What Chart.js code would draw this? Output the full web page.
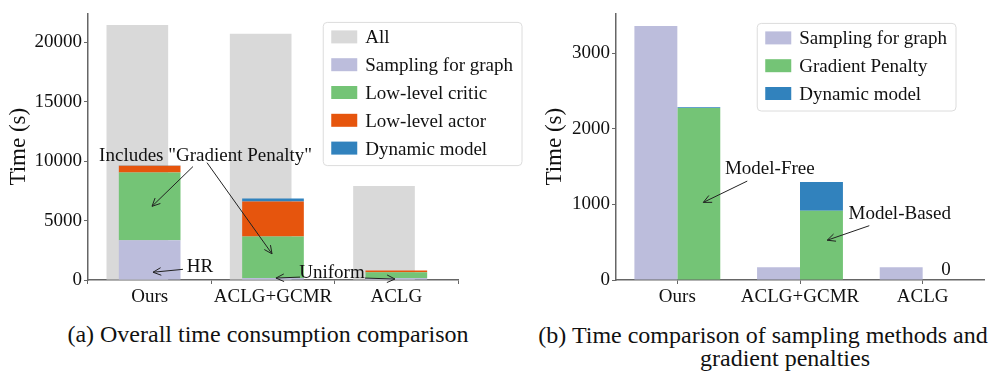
<!DOCTYPE html>
<html>
<head>
<meta charset="utf-8">
<script src="https://cdn.jsdelivr.net/npm/chart.js@4.4.1/dist/chart.umd.min.js"></script>
<style>
  body { margin: 0; background: #fff; }
  #wrap { position: relative; width: 995px; height: 375px; font-family: "Liberation Serif", "DejaVu Serif", serif; }
  canvas { position: absolute; top: 0; }
  .cap { position: absolute; font-size: 24px; color: #111; white-space: nowrap; transform: translate(-50%, -50%); }
</style>
</head>
<body>
<div id="wrap">
  <canvas id="chartA" width="530" height="312" style="left:0"></canvas>
  <canvas id="chartB" width="465" height="312" style="left:530px"></canvas>
  <div class="cap" style="left:268px; top:334px">(a) Overall time consumption comparison</div>
  <div class="cap" style="left:763px; top:335px">(b) Time comparison of sampling methods and</div>
  <div class="cap" style="left:785px; top:358px">gradient penalties</div>
</div>
<script>
// data
const categories = ['Ours', 'ACLG+GCMR', 'ACLG'];

// (a) overall time, seconds
const allTime      = [21470, 20740, 7920];
const samplingTime = [3350, 170, 170];
const criticTime   = [5710, 3500, 480];
const actorTime    = [570, 2940, 160];
const dynamicTime  = [20, 245, 0];
const ticksA = [0, 5000, 10000, 15000, 20000];

// (b) sampling vs gradient penalty, seconds
const samplingTimeB = [3360, 167, 167];
const penaltyTime   = [2273, 914, 0];
const modelTime     = [12, 381, 8];
const ticksB = [0, 1000, 2000, 3000];

const FONT = '"Liberation Serif", "DejaVu Serif", serif';
const colors = {
  all: '#d9d9d9',
  sampling: '#bcbddc',
  critic: '#74c476',
  actor: '#e6550d',
  dynamic: '#3182bd'
};

// legend drawn inside the plot, matplotlib style
const boxLegend = {
  id: 'boxLegend',
  afterDraw(chart, args, opts) {
    const ctx = chart.ctx;
    const items = chart.data.datasets;
    ctx.save();
    ctx.font = '19px ' + FONT;
    let maxW = 0;
    items.forEach(d => { maxW = Math.max(maxW, ctx.measureText(d.label).width); });
    const w = 8 + 26 + 8 + maxW + 9;
    const rowH = 27.8;
    const h = 15 + rowH * (items.length - 1) + 17;
    const x = chart.chartArea.right + opts.right - w;
    const y = chart.chartArea.top + opts.top;
    ctx.beginPath();
    ctx.roundRect(x, y, w, h, 4);
    ctx.fillStyle = 'rgba(255,255,255,0.85)';
    ctx.fill();
    ctx.strokeStyle = '#dcdcdc';
    ctx.lineWidth = 1;
    ctx.stroke();
    items.forEach((d, i) => {
      const cy = y + 15 + i * rowH;
      ctx.fillStyle = d.backgroundColor;
      ctx.fillRect(x + 8, cy - 7, 26, 13);
      ctx.fillStyle = '#111';
      ctx.textBaseline = 'middle';
      ctx.textAlign = 'left';
      ctx.fillText(d.label, x + 42, cy + 1);
    });
    ctx.restore();
  }
};

// text labels with "->" arrows, positions in data units
const arrowNotes = {
  id: 'arrowNotes',
  afterDatasetsDraw(chart, args, opts) {
    const ctx = chart.ctx;
    const xs = chart.scales[opts.xAxis];
    const ys = chart.scales.y;
    const px = p => [xs.getPixelForValue(p[0]), ys.getPixelForValue(p[1])];
    ctx.save();
    ctx.strokeStyle = '#222';
    ctx.lineWidth = 1;
    opts.items.forEach(it => {
      (it.arrows || []).forEach(a => {
        const s = px(a[0]);
        const e = px(a[1]);
        ctx.beginPath();
        ctx.moveTo(s[0], s[1]);
        ctx.lineTo(e[0], e[1]);
        const ang = Math.atan2(e[1] - s[1], e[0] - s[0]);
        const hl = 8, hw = 3.8;
        const bx = e[0] - hl * Math.cos(ang), by = e[1] - hl * Math.sin(ang);
        ctx.moveTo(bx + hw * Math.sin(ang), by - hw * Math.cos(ang));
        ctx.lineTo(e[0], e[1]);
        ctx.lineTo(bx - hw * Math.sin(ang), by + hw * Math.cos(ang));
        ctx.stroke();
      });
      const t = px(it.at);
      ctx.font = '19px ' + FONT;
      ctx.fillStyle = '#111';
      ctx.textAlign = 'center';
      ctx.textBaseline = 'middle';
      ctx.fillText(it.text, t[0], t[1]);
    });
    ctx.restore();
  }
};

const tickFont = { family: FONT, size: 19 };
const axisGrid = { drawOnChartArea: false, drawTicks: true, tickLength: 4, color: '#666' };
const axisBorder = { display: true, color: '#666', width: 1.5 };

function keepTicks(list) {
  return function (scale) { scale.ticks = list.map(v => ({ value: v })); };
}

// ---- chart (a) ----
const pts = arr => arr.map((v, i) => ({ x: i, y: v }));
// grey "All" bar sits behind the stacked parts (higher order = drawn first)
const barA = { xAxisID: 'x', stack: 'parts', grouped: false, borderWidth: 0, order: 0 };

new Chart(document.getElementById('chartA'), {
  type: 'bar',
  data: {
    datasets: [
      { label: 'All', data: pts(allTime), backgroundColor: colors.all, xAxisID: 'xAll', stack: 'all', grouped: false, borderWidth: 0, order: 1 },
      Object.assign({ label: 'Sampling for graph', data: pts(samplingTime), backgroundColor: colors.sampling }, barA),
      Object.assign({ label: 'Low-level critic', data: pts(criticTime), backgroundColor: colors.critic }, barA),
      Object.assign({ label: 'Low-level actor', data: pts(actorTime), backgroundColor: colors.actor }, barA),
      Object.assign({ label: 'Dynamic model', data: pts(dynamicTime), backgroundColor: colors.dynamic }, barA)
    ]
  },
  options: {
    responsive: false,
    animation: false,
    devicePixelRatio: 1,
    layout: { padding: { left: 0, top: 5, right: 72, bottom: 0 } },
    datasets: { bar: { categoryPercentage: 0.5, barPercentage: 1 } },
    plugins: {
      legend: { display: false },
      tooltip: { enabled: false },
      boxLegend: { right: 64, top: 9 },
      arrowNotes: {
        xAxis: 'x',
        items: [
          { text: 'Includes "Gradient Penalty"', at: [0.453, 10449],
            arrows: [[[0.351, 9551], [0.019, 6204]], [[0.465, 9878], [0.992, 2204]]] },
          { text: 'HR', at: [0.408, 1061], arrows: [[[0.27, 898], [0.027, 653]]] },
          { text: 'Uniform', at: [1.478, 571],
            arrows: [[[1.219, 245], [1.024, 163]], [[1.746, 163], [1.989, 82]]] }
        ]
      }
    },
    scales: {
      x: {
        type: 'linear', min: -0.5, max: 2.5, offset: false, stacked: true,
        afterBuildTicks: keepTicks([0, 1, 2]),
        afterFit: s => { s.height = 32; },
        ticks: { font: tickFont, color: '#111', padding: 2, maxRotation: 0, autoSkip: false, callback: v => categories[v] },
        grid: axisGrid, border: axisBorder
      },
      xAll: {
        type: 'linear', min: -0.4, max: 2.6, display: false, offset: false, stacked: true,
        afterBuildTicks: keepTicks([0, 1, 2])
      },
      y: {
        stacked: true, min: 0, max: 22450,
        afterBuildTicks: keepTicks(ticksA),
        afterFit: s => { s.width = 88; },
        ticks: { font: tickFont, color: '#111', padding: 2, callback: v => String(v) },
        grid: axisGrid, border: axisBorder,
        title: { display: true, text: 'Time (s)', font: { family: FONT, size: 23 }, color: '#111', padding: { top: 5, bottom: 0 } }
      }
    }
  },
  plugins: [boxLegend, arrowNotes]
});

// ---- chart (b) ----
new Chart(document.getElementById('chartB'), {
  type: 'bar',
  data: {
    labels: categories,
    datasets: [
      { label: 'Sampling for graph', data: samplingTimeB, backgroundColor: colors.sampling, stack: 's' },
      { label: 'Gradient Penalty', data: penaltyTime, backgroundColor: colors.critic, stack: 'g' },
      { label: 'Dynamic model', data: modelTime, backgroundColor: colors.dynamic, stack: 'g' }
    ]
  },
  options: {
    responsive: false,
    animation: false,
    devicePixelRatio: 1,
    layout: { padding: { left: 0, top: 5, right: 11, bottom: 0 } },
    datasets: { bar: { categoryPercentage: 0.7, barPercentage: 1, borderWidth: 0 } },
    plugins: {
      legend: { display: false },
      tooltip: { enabled: false },
      boxLegend: { right: -28, top: 10 },
      arrowNotes: {
        xAxis: 'x',
        items: [
          { text: 'Model-Free', at: [0.754, 1474], arrows: [[[0.57, 1308], [0.212, 1026]]] },
          { text: 'Model-Based', at: [1.813, 872], arrows: [[[1.565, 718], [1.222, 526]]] },
          { text: '0', at: [2.19, 128] }
        ]
      }
    },
    scales: {
      x: {
        type: 'category',
        afterFit: s => { s.height = 32; },
        ticks: { font: tickFont, color: '#111', padding: 2, maxRotation: 0, autoSkip: false },
        grid: Object.assign({}, axisGrid, { offset: false }),
        border: axisBorder
      },
      y: {
        stacked: true, min: 0, max: 3525,
        afterBuildTicks: keepTicks(ticksB),
        afterFit: s => { s.width = 86; },
        ticks: { font: tickFont, color: '#111', padding: 2, callback: v => String(v) },
        grid: axisGrid, border: axisBorder,
        title: { display: true, text: 'Time (s)', font: { family: FONT, size: 23 }, color: '#111', padding: { top: 11, bottom: 0 } }
      }
    }
  },
  plugins: [boxLegend, arrowNotes]
});
</script>
</body>
</html>
